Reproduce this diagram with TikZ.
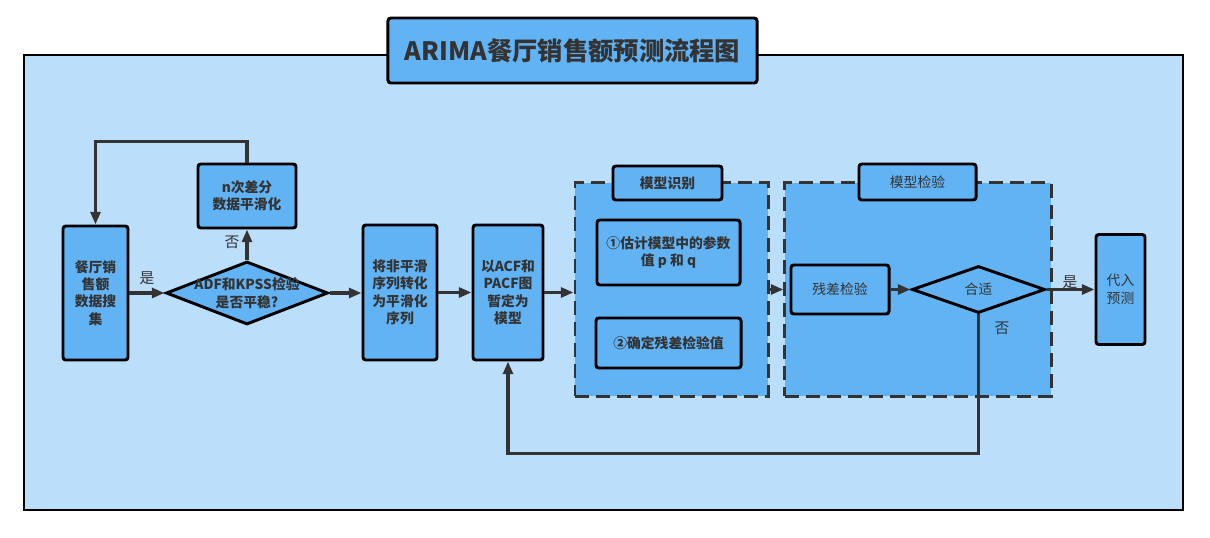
\documentclass[tikz,border=0pt]{standalone}
\usepackage{fontspec}
\setmainfont{Noto Sans CJK SC}
\usepackage{tikz}
\usetikzlibrary{arrows.meta,shapes.geometric}
\definecolor{bgblue}{HTML}{BBDEFA}
\definecolor{boxblue}{HTML}{62B3F4}
\definecolor{ink}{HTML}{333333}
\tikzset{
  every node/.style={text=ink},
}

\begin{document}
\begin{tikzpicture}[
    x=0.025cm, y=-0.025cm,
    box/.style={draw=black,line width=2.1pt,fill=boxblue,rounded corners=2pt,inner sep=0pt,align=center,font=\bfseries\fontsize{9.8}{12.4}\selectfont},
    plainbox/.style={box,font=\fontsize{9.8}{12.4}\selectfont},
    dia/.style={draw=black,line width=2.1pt,fill=boxblue,diamond,inner sep=0pt},
    grp/.style={draw=ink,line width=2.1pt,fill=boxblue,dash pattern=on 10pt off 5pt,inner sep=0pt},
    flow/.style={draw=ink,line width=2.2pt,-{Triangle[length=9pt,width=7pt]}},
    lbl/.style={font=\fontsize{10.5}{12}\selectfont}
    ]
    \useasboundingbox (0,0) rectangle (1210,538);
    \fill[bgblue] (24,55) rectangle (1183,510);
    \draw[black,line width=1.4pt] (24,55) rectangle (1183,510);
    \node[box,minimum width=9.225cm,minimum height=1.625cm,font=\bfseries\fontsize{18}{20}\selectfont] (title) at (572.5,50.5) {ARIMA餐厅销售额预测流程图};

    \node[grp,minimum width=4.825cm,minimum height=5.325cm] (grp1) at (671.5,289.5) {};
    \node[grp,minimum width=6.65cm,minimum height=5.325cm] (grp2) at (918,289.5) {};
    \node[box,minimum width=2.725cm,minimum height=0.85cm] (ident) at (667.5,183) {模型识别};
    \node[plainbox,minimum width=2.925cm,minimum height=0.9cm] (test) at (917.5,182) {模型检验};

    \node[box,minimum width=1.625cm,minimum height=3.35cm] (collect) at (95.5,293) {餐厅销\\售额\\数据搜\\集};
    \node[box,minimum width=2.45cm,minimum height=1.6cm] (diff) at (247,196) {n次差分\\数据平滑化};
    \node[dia,minimum width=4.05cm,minimum height=1.575cm] (adf) at (247,293) {};
    \node[align=center,font=\bfseries\fontsize{9.8}{12.4}\selectfont] at (adf) {ADF和KPSS检验\\是否平稳?};
    \node[box,minimum width=1.85cm,minimum height=3.375cm] (pre) at (400,292.5) {将非平滑\\序列转化\\为平滑化\\序列};
    \node[box,minimum width=1.75cm,minimum height=3.375cm] (acf) at (508,292.5) {以ACF和\\PACF图\\暂定为\\模型};
    \node[box,minimum width=3.575cm,minimum height=1.625cm] (est) at (668.5,252.5) {①估计模型中的参数\\值 p 和 q};
    \node[box,minimum width=3.625cm,minimum height=1.25cm] (resid) at (668.5,343) {②确定残差检验值};
    \node[plainbox,minimum width=2.45cm,minimum height=1.225cm] (chk) at (840,289.5) {残差检验};
    \node[dia,minimum width=3.325cm,minimum height=1.175cm] (fit) at (978.5,289.5) {};
    \node[font=\fontsize{9.8}{12.4}\selectfont] at (fit) {合适};
    \node[plainbox,minimum width=1.225cm,minimum height=2.75cm] (pred) at (1120.5,289.5) {代入\\预测};

    \draw[flow] (collect.east) -- (adf.west);
    \draw[flow] (adf.north) -- (diff.south);
    \draw[flow] (diff.north) -- ++(0,-21) -| (collect.north);
    \draw[flow] (adf.east) -- (adf.east -| pre.west);
    \draw[flow] (pre.east) -- (pre.east -| acf.west);
    \draw[flow] (acf.east) -- (acf.east -| grp1.west);
    \draw[flow] (grp1.east) -- (grp2.west);
    \draw[flow] (chk) -- (fit);
    \draw[flow] (fit) -- (pred);
    \draw[flow] (fit.south) -- ++(0,139) -| (acf.south);

    \node[lbl] (yes1) at (147,278) {是};
    \node[lbl] (no1) at (232,242) {否};
    \node[lbl] (yes2) at (1070,282) {是};
    \node[lbl] (no2) at (1002,328) {否};
  \end{tikzpicture}
\end{document}
